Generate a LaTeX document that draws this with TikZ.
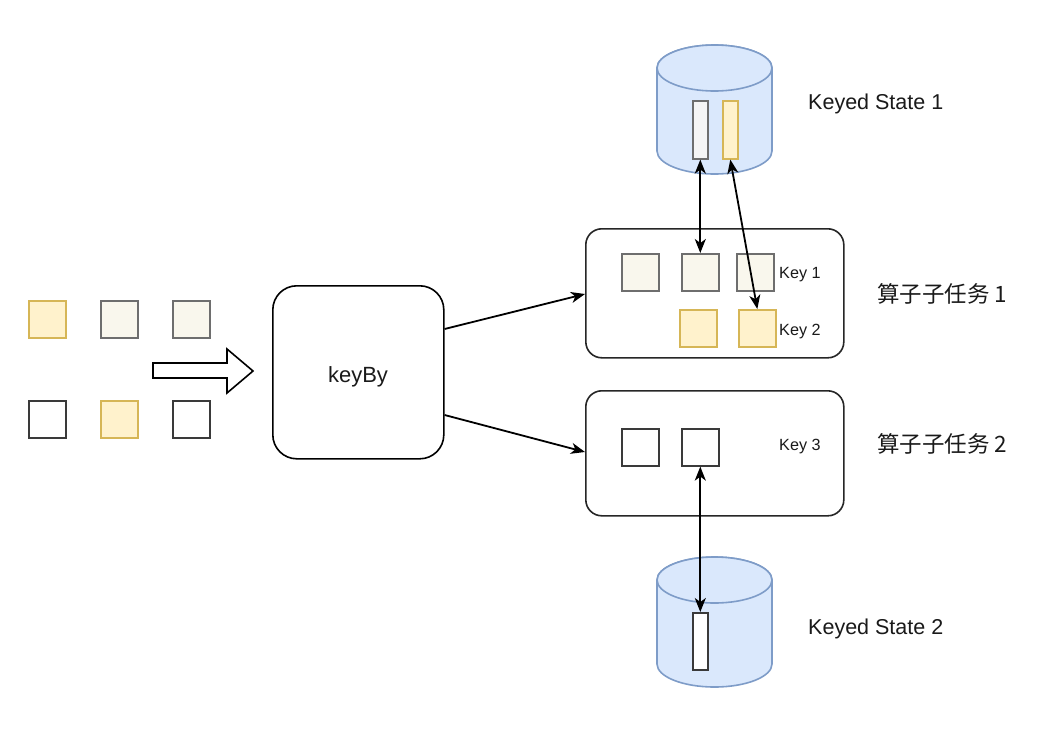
\documentclass[tikz,border=0pt]{standalone}
\usepackage{fontspec}
\setmainfont{Liberation Sans}
\newfontfamily\cjk{Noto Sans CJK SC}
\usetikzlibrary{arrows.meta}
\definecolor{grayfill}{HTML}{F9F7ED}
\definecolor{grayline}{HTML}{6E6E6E}
\definecolor{yelfill}{HTML}{FFF2CC}
\definecolor{yelline}{HTML}{D6B656}
\definecolor{cylfill}{HTML}{DAE8FC}
\definecolor{cylline}{HTML}{7E9CC8}
\definecolor{barfill}{HTML}{F5F5F5}
\definecolor{darkline}{HTML}{3A3A3A}
\definecolor{txt}{HTML}{1A1A1A}
\tikzset{
  sq/.style={draw, line width=1.6pt, minimum width=37pt, minimum height=37pt, inner sep=0pt, anchor=north west},
  graysq/.style={sq, fill=grayfill, draw=grayline},
  yelsq/.style={sq, fill=yelfill, draw=yelline},
  whitesq/.style={sq, fill=white, draw=darkline},
  bar/.style={draw, line width=1.6pt, minimum width=15pt, minimum height=58pt, inner sep=0pt, anchor=north west},
  taskbox/.style={draw=black!85, line width=1.6pt, rounded corners=16pt, minimum width=258pt, inner sep=0pt, anchor=north west},
  conn/.style={line width=1.8pt, -{Stealth[length=14pt,width=11pt,inset=4pt]}},
  biconn/.style={line width=1.8pt, {Stealth[length=14pt,width=11pt,inset=4pt]}-{Stealth[length=14pt,width=11pt,inset=4pt]}},
  lbl/.style={inner sep=0pt, anchor=base west, text=txt, font=\fontsize{21.5}{25}\selectfont},
  keylbl/.style={inner sep=0pt, anchor=base west, text=txt, font=\fontsize{16.2}{19}\selectfont},
  cjklbl/.style={inner sep=0pt, anchor=base west, text=txt, font=\cjk\fontsize{22.5}{27}\selectfont},
  cyl/.style={fill=cylfill, draw=cylline, line width=1.6pt}
}
\begin{document}
\begin{tikzpicture}[x=1pt,y=-1pt]
\useasboundingbox[fill=white] (0,0) rectangle (1046,745);

% input squares
\node[yelsq] (in1) at (28,300) {};
\node[graysq] (in2) at (100,300) {};
\node[graysq] (in3) at (172,300) {};
\node[whitesq] (in4) at (28,400) {};
\node[yelsq] (in5) at (100,400) {};
\node[whitesq] (in6) at (172,400) {};

% hollow arrow
\draw[line width=1.6pt, fill=white] (153,363) -- (227,363) -- (227,349) -- (253,371) -- (227,393) -- (227,378) -- (153,378) -- cycle;

% keyBy box
\node[draw, line width=1.6pt, rounded corners=24pt, minimum width=171pt, minimum height=173pt, inner sep=0pt, anchor=north west] (keyby) at (272,285) {};
\node[inner sep=0pt, anchor=base, text=txt, font=\fontsize{22}{26}\selectfont] (keybytxt) at (358,382) {keyBy};

% task boxes
\node[taskbox, minimum height=129pt] (task1) at (585,228) {};
\node[taskbox, minimum height=125pt] (task2) at (585,390) {};

% task 1 squares
\node[graysq] (t1a) at (621,253) {};
\node[graysq] (t1b) at (681,253) {};
\node[graysq] (t1c) at (736,253) {};
\node[yelsq] (t1d) at (679,309) {};
\node[yelsq] (t1e) at (738,309) {};
\node[keylbl] (k1) at (779,278) {Key 1};
\node[keylbl] (k2) at (779,335) {Key 2};

% task 2 squares
\node[whitesq] (t2a) at (621,428) {};
\node[whitesq] (t2b) at (681,428) {};
\node[keylbl] (k3) at (779,450) {Key 3};

% top cylinder
\filldraw[cyl] (657,68) -- (657,151) arc[start angle=180, end angle=0, x radius=57.5, y radius=23] -- (772,68) arc[start angle=0, end angle=-180, x radius=57.5, y radius=23] -- cycle;
\draw[cyl] (714.5,68) ellipse[x radius=57.5, y radius=23];
\node[bar, fill=barfill, draw=grayline] (b1) at (692,100) {};
\node[bar, fill=yelfill, draw=yelline] (b2) at (722,100) {};

% bottom cylinder
\filldraw[cyl] (657,580) -- (657,664) arc[start angle=180, end angle=0, x radius=57.5, y radius=23] -- (772,580) arc[start angle=0, end angle=-180, x radius=57.5, y radius=23] -- cycle;
\draw[cyl] (714.5,580) ellipse[x radius=57.5, y radius=23];
\node[bar, fill=white, draw=darkline, minimum height=57pt] (b3) at (692,612) {};

% labels
\node[lbl] (ks1) at (808,109) {Keyed State 1};
\node[lbl] (ks2) at (808,634) {Keyed State 2};
\node[cjklbl] (st1) at (877,302) {算子子任务 1};
\node[cjklbl] (st2) at (877,452) {算子子任务 2};

% connectors
\draw[conn] (keyby.east |- 0,329) -- (task1.west |- 0,294);
\draw[conn] (keyby.east |- 0,415) -- (task2.west |- 0,452);
\draw[biconn] (b1.south) -- (b1.south |- t1b.north);
\draw[biconn] (b2.south) -- (t1e.north);
\draw[biconn] (t2b.south) -- (t2b.south |- b3.north);
\end{tikzpicture}
\end{document}
